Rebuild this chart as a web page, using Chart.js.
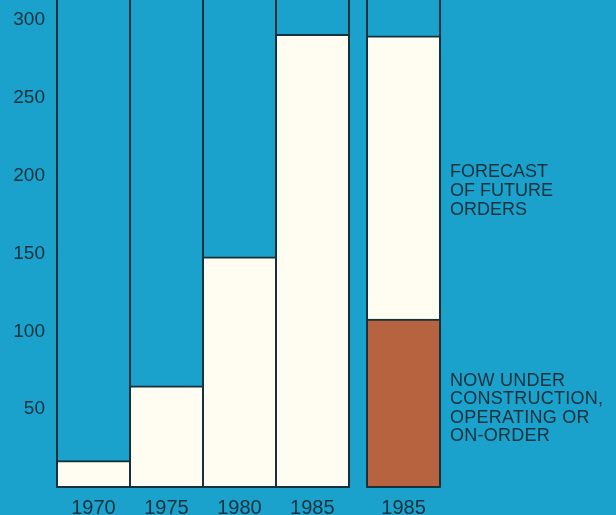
<!DOCTYPE html>
<html>
<head>
<meta charset="utf-8">
<script src="https://cdn.jsdelivr.net/npm/chart.js@4/dist/chart.umd.min.js"></script>
<style>
  html, body { margin: 0; padding: 0; background: #1aa2cd; }
  #wrap { width: 616px; height: 515px; position: relative; }
</style>
</head>
<body>
<div id="wrap"><canvas id="c" width="616" height="515"></canvas></div>
<script>
// Orders by year (first group) and the 1985 breakdown (second group)
const years = ['1970', '1975', '1980', '1985'];
const ordersByYear = [17, 65, 148, 291];
const breakdownYear = '1985';
const underConstruction = [108];   // now under construction, operating or on-order
const forecastOrders = [182];      // forecast of future orders, stacked on top
const yTicks = [50, 100, 150, 200, 250, 300];
const forecastLabel = ['FORECAST', 'OF FUTURE', 'ORDERS'];
const currentLabel = ['NOW UNDER', 'CONSTRUCTION,', 'OPERATING OR', 'ON-ORDER'];

// layout
const GROUP_GAP = 0.25;            // spacing between the two groups, in bar widths
const INK = '#15313b';
const PAPER = '#fffdf2';
const RUST = '#b86340';

const slotX = years.map((_, i) => i);
const breakdownX = years.length + GROUP_GAP;
const tickValues = [...slotX, breakdownX];
const tickLabels = [...years, breakdownYear];

Chart.defaults.font.family = '"Liberation Sans", Arial, sans-serif';
Chart.defaults.color = INK;

const topEdge = { top: 2, left: 0, right: 0, bottom: 0 };

// axes sit flush with the plot area; no extra room for overhanging labels
const noPad = s => {
  s.paddingLeft = 0; s.paddingRight = 0; s.paddingTop = 0; s.paddingBottom = 0;
};

// vertical column rules and baseline drawn around each bar
const framePlugin = {
  id: 'frames',
  afterDatasetsDraw(chart) {
    const { ctx, chartArea } = chart;
    const y0 = chart.scales.y.getPixelForValue(0);
    const edges = new Set();
    const spans = [];
    chart.data.datasets.forEach((ds, di) => {
      chart.getDatasetMeta(di).data.forEach(el => {
        const { x, width } = el.getProps(['x', 'width'], true);
        const l = Math.round(x - width / 2), r = Math.round(x + width / 2);
        edges.add(l); edges.add(r);
        spans.push([l, r]);
      });
    });
    ctx.save();
    ctx.strokeStyle = INK;
    ctx.lineWidth = 2;
    ctx.beginPath();
    edges.forEach(x => { ctx.moveTo(x, chartArea.top); ctx.lineTo(x, y0 + 1); });
    spans.forEach(([l, r]) => { ctx.moveTo(l - 1, y0); ctx.lineTo(r + 1, y0); });
    ctx.stroke();
    ctx.restore();
  }
};

// side captions for the two parts of the 1985 breakdown
const captionPlugin = {
  id: 'captions',
  afterDraw(chart) {
    const { ctx, chartArea, scales } = chart;
    const x = chartArea.right + 10;
    const block = (lines, centerValue, lh) => {
      const cy = scales.y.getPixelForValue(centerValue);
      const start = cy - (lines.length - 1) * lh / 2;
      lines.forEach((t, i) => ctx.fillText(t, x, start + i * lh));
    };
    ctx.save();
    ctx.font = '18px "Liberation Sans", Arial, sans-serif';
    ctx.fillStyle = INK;
    ctx.textAlign = 'left';
    ctx.textBaseline = 'middle';
    block(forecastLabel, 190, 19);
    ctx.letterSpacing = '0.25px';
    block(currentLabel, 50.5, 18.5);
    ctx.restore();
  }
};

new Chart(document.getElementById('c'), {
  type: 'bar',
  data: {
    datasets: [
      {
        label: 'Orders',
        data: years.map((_, i) => ({ x: slotX[i], y: ordersByYear[i] })),
        backgroundColor: PAPER,
        borderColor: INK,
        borderWidth: topEdge,
        borderSkipped: false
      },
      {
        label: 'Now under construction, operating or on-order',
        data: underConstruction.map(v => ({ x: breakdownX, y: v })),
        backgroundColor: RUST,
        borderColor: INK,
        borderWidth: topEdge,
        borderSkipped: false
      },
      {
        label: 'Forecast of future orders',
        data: forecastOrders.map(v => ({ x: breakdownX, y: v })),
        backgroundColor: PAPER,
        borderColor: INK,
        borderWidth: topEdge,
        borderSkipped: false
      }
    ]
  },
  options: {
    responsive: false,
    animation: false,
    barPercentage: 1,
    categoryPercentage: 1,
    layout: { padding: { top: 0, right: 176, bottom: 0, left: 0 } },
    plugins: { legend: { display: false }, tooltip: { enabled: false } },
    scales: {
      x: {
        type: 'linear',
        stacked: true,
        offset: false,
        min: -0.5,
        max: breakdownX + 0.5,
        grid: { display: false, drawTicks: false, offset: false },
        border: { display: false },
        afterBuildTicks: s => { s.ticks = tickValues.map(v => ({ value: v })); },
        afterFit: s => { s.height = 28; noPad(s); },
        ticks: {
          autoSkip: false,
          maxRotation: 0,
          padding: 9,
          font: { size: 20 },
          color: INK,
          callback: (v, i) => tickLabels[i]
        }
      },
      y: {
        stacked: true,
        min: 0,
        max: 313,
        grid: { display: false, drawTicks: false },
        border: { display: false },
        afterBuildTicks: s => { s.ticks = yTicks.map(v => ({ value: v })); },
        afterFit: s => { s.width = 57; noPad(s); },
        ticks: {
          padding: 12,
          font: { size: 19 },
          color: INK
        }
      }
    }
  },
  plugins: [framePlugin, captionPlugin]
});
</script>
</body>
</html>
